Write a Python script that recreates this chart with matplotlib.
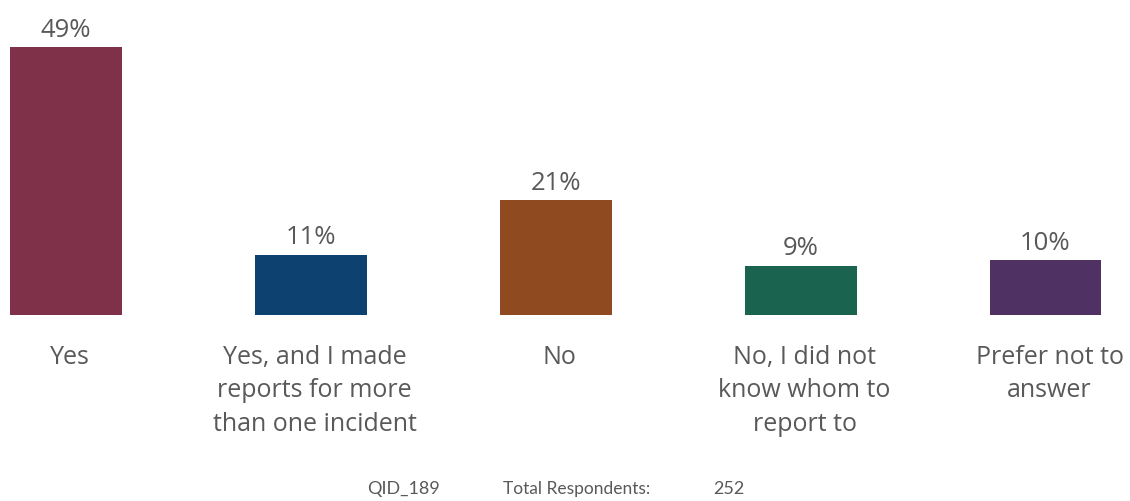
import matplotlib.pyplot as plt
from matplotlib.transforms import ScaledTranslation

categories = ['Yes', 'Yes, and I made\nreports for more\nthan one incident', 'No',
              'No, I did not\nknow whom to\nreport to', 'Prefer not to\nanswer']
values = [49, 11, 21, 9, 10]
colors = ['#7F3149', '#0D4270', '#8F4A20', '#1A634E', '#4F3163']
grey = '#595959'

fig = plt.figure(figsize=(11.3, 5.02), dpi=100)
ax = fig.add_axes([0, (502 - 316) / 502, 1, 316 / 502])

x = range(len(values))
bars = ax.bar(x, values, width=0.457, color=colors)

#Value labels above bars.
for b, v in zip(bars, values):
    ax.annotate(f'{v}%', (b.get_x() + b.get_width() / 2, v), xytext=(0, 4),
                textcoords='offset points', ha='center', va='bottom',
                fontsize=18.5, color=grey, family='Open Sans')

ax.set_xlim(-0.269, 4.345)
ax.set_ylim(0, 57.8)
ax.set_xticks(list(x))
ax.set_xticklabels(categories, fontsize=18, color=grey, family='Open Sans',
                   linespacing=1.43, va='top')
ax.tick_params(axis='x', length=0, pad=21)
shift = ScaledTranslation(4 / 100, 0, fig.dpi_scale_trans)
for lbl in ax.get_xticklabels():
    lbl.set_transform(lbl.get_transform() + shift)
ax.set_yticks([])
for s in ax.spines.values():
    s.set_visible(False)

#Footer.
fy = 1 - 489 / 502
fig.text(404 / 1130, fy, 'QID_189', ha='center', va='center',
         fontsize=13, color=grey, family='Lato')
fig.text(503 / 1130, fy, 'Total Respondents:', ha='left', va='center',
         fontsize=12.5, color=grey, family='Lato')
fig.text(713 / 1130, fy, '252', ha='left', va='center',
         fontsize=13, color=grey, family='Lato')

fig.savefig('out.png', dpi=100)
